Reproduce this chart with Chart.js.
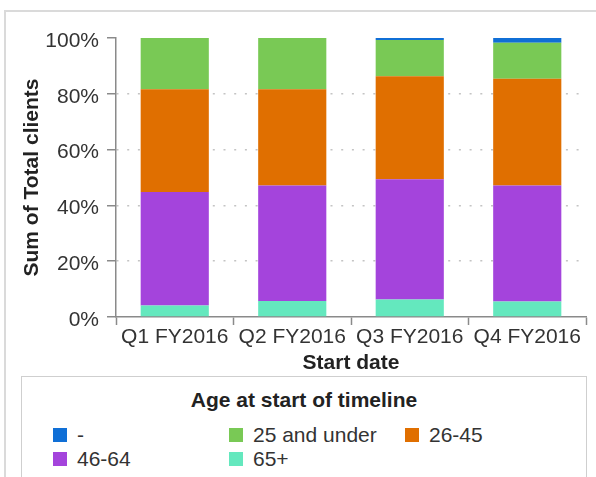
<!DOCTYPE html>
<html lang="en">
<head>
  <meta charset="UTF-8">
  <title>Sum of Total clients by start date</title>
  <script src="https://cdn.jsdelivr.net/npm/chart.js"></script>
  <style>
    html, body { margin: 0; padding: 0; background: #fff; }
    body { width: 596px; height: 477px; position: relative; overflow: hidden; font-family: 'Liberation Sans', Arial, sans-serif; }
    #frame { position: absolute; left: 4px; top: 10px; width: 700px; height: 600px; border: 2px solid #dadada; }
    #wrap { position: absolute; left: 0; top: 0; width: 596px; height: 376px; }
    #legend { position: absolute; left: 21px; top: 376px; width: 566px; height: 130px; border: 1.5px solid #cfcfcf; box-sizing: border-box; background: #fff; }
    #legend .title { text-align: center; font-weight: bold; font-size: 21px; line-height: 24px; color: #222; margin-top: 11px; }
    #legend .items { display: grid; grid-template-columns: 176px 176px 176px; grid-auto-rows: 24px; margin-top: 11px; padding-left: 31px; }
    #legend .item { display: flex; align-items: center; font-size: 21px; color: #333; }
    #legend .box { width: 14px; height: 14px; margin-right: 10px; flex: none; }
  </style>
</head>
<body>
  <div id="frame"></div>
  <div id="wrap"><canvas id="chart"></canvas></div>
  <div id="legend">
    <div class="title">Age at start of timeline</div>
    <div class="items" id="legendItems"></div>
  </div>

  <script>
    const quarters = ['Q1 FY2016', 'Q2 FY2016', 'Q3 FY2016', 'Q4 FY2016'];
    const age65plus = [4.1, 5.7, 6.3, 5.6];
    const age46to64 = [40.7, 41.4, 43.1, 41.5];
    const age26to45 = [36.8, 34.5, 36.9, 38.3];
    const age25under = [18.4, 18.4, 13.0, 12.9];
    const ageBlank = [0, 0, 0.7, 1.7];
    const yTicks = [0, 20, 40, 60, 80, 100];

    const datasets = [
      { label: '65+', data: age65plus, backgroundColor: '#64e8be' },
      { label: '46-64', data: age46to64, backgroundColor: '#a444dc' },
      { label: '26-45', data: age26to45, backgroundColor: '#e06f00' },
      { label: '25 and under', data: age25under, backgroundColor: '#79c955' },
      { label: '-', data: ageBlank, backgroundColor: '#106fd6' }
    ];

    Chart.defaults.font.family = "'Liberation Sans', Arial, sans-serif";
    Chart.defaults.font.size = 21;
    Chart.defaults.color = '#333';

    const axisGray = '#8a8a8a';

    new Chart(document.getElementById('chart'), {
      type: 'bar',
      data: { labels: quarters, datasets: datasets },
      options: {
        responsive: true,
        maintainAspectRatio: false,
        animation: false,
        categoryPercentage: 1,
        barPercentage: 0.58,
        layout: { padding: { left: 0, top: 38, right: 10, bottom: 0 } },
        plugins: { legend: { display: false }, tooltip: { enabled: false } },
        scales: {
          x: {
            stacked: true,
            afterFit: s => { s.height = 59; },
            grid: { offset: true, drawOnChartArea: false, tickLength: 8, tickColor: axisGray, tickWidth: 1.5 },
            border: { color: axisGray, width: 1.5 },
            ticks: { padding: 0, color: '#333', maxRotation: 0 },
            title: { display: true, text: 'Start date', color: '#222', font: { weight: 'bold', size: 21 }, padding: { top: 0, bottom: 0 } }
          },
          y: {
            stacked: true,
            min: 0,
            max: 100,
            afterFit: s => { s.width = 116; },
            afterBuildTicks: s => { s.ticks = yTicks.map(v => ({ value: v })); },
            grid: {
              color: c => (c.tick && (c.tick.value === 0 || c.tick.value === 100)) ? 'rgba(0,0,0,0)' : '#c4c4c4',
              lineWidth: 1.5,
              tickLength: 9,
              tickColor: axisGray,
              tickWidth: 1.5
            },
            border: { color: axisGray, width: 1.5, dash: [2, 8.7] },
            ticks: { padding: 8, labelOffset: 3, color: '#333', callback: v => v + '%' },
            title: { display: true, text: 'Sum of Total clients', color: '#222', font: { weight: 'bold', size: 21 }, padding: { top: 20, bottom: 0 } }
          }
        }
      }
    });

    // legend grid, same order as the reference (reverse of stacking)
    const legendItems = document.getElementById('legendItems');
    datasets.slice().reverse().forEach(ds => {
      const item = document.createElement('div');
      item.className = 'item';
      const box = document.createElement('span');
      box.className = 'box';
      box.style.background = ds.backgroundColor;
      item.appendChild(box);
      item.appendChild(document.createTextNode(ds.label));
      legendItems.appendChild(item);
    });
  </script>
</body>
</html>
